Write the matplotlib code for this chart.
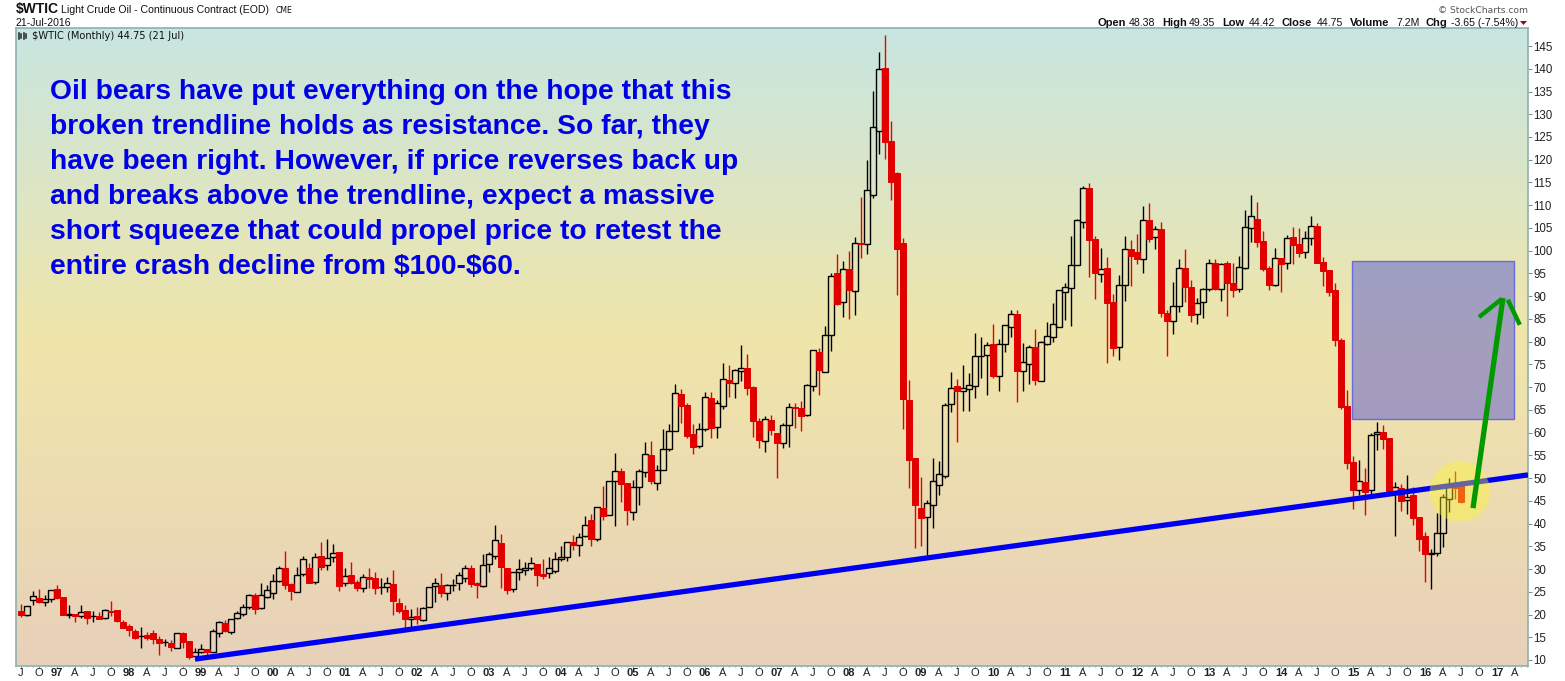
import matplotlib
matplotlib.use("Agg")
import matplotlib.pyplot as plt
import numpy as np
from matplotlib.colors import LinearSegmentedColormap
from matplotlib.lines import Line2D
from matplotlib.patches import Ellipse, Polygon, Rectangle

# Monthly candles, Jul 1996 to Jul 2016
opens = [
    20.8, 20.0, 23.3, 23.6, 22.85, 23.35,
    25.6, 23.9, 20.0, 20.1, 19.6, 20.7, 19.65, 19.7, 19.2, 20.75, 21.0, 18.35,
    17.5, 16.4, 15.25, 15.5, 15.9, 14.6, 13.85, 13.75, 12.7, 15.85, 14.25, 10.8,
    11.85, 12.4, 11.85, 16.0, 18.05, 16.25, 19.15, 20.1, 21.6, 24.3, 21.5, 23.9,
    24.65, 27.45, 30.2, 26.7, 25.0, 29.0, 30.2, 27.2, 32.85, 30.95, 32.7, 33.75,
    26.85, 28.7, 27.15, 25.9, 28.25, 28.0, 26.1, 26.1, 26.7, 22.45, 21.0, 18.95,
    19.6, 18.9, 21.7, 26.35, 26.5, 24.8, 26.4, 26.85, 28.1, 30.15, 26.85, 26.35,
    31.2, 32.8, 35.7, 30.15, 25.55, 29.4, 29.7, 30.3, 31.1, 28.9, 29.05, 29.5,
    32.1, 32.55, 35.95, 35.2, 37.2, 40.8, 36.7, 43.4, 41.8, 49.3, 51.55, 48.9,
    42.6, 47.95, 51.4, 55.05, 49.0, 51.7, 56.3, 60.3, 68.5, 66.1, 59.7, 57.1,
    60.7, 67.6, 61.3, 65.9, 71.55, 71.0, 73.6, 74.2, 70.05, 62.55, 58.2, 62.75,
    59.9, 57.8, 61.6, 65.7, 65.4, 63.85, 70.2, 77.7, 73.4, 81.4, 95.1, 88.65,
    96.0, 91.2, 101.7, 101.4, 112.3, 126.25, 140.15, 124.1, 117.05, 101.7, 67.2, 54.4,
    43.4, 41.35, 44.0, 48.55, 50.55, 66.2, 70.25, 69.05, 69.5, 70.2, 76.8, 77.1,
    79.4, 72.5, 79.55, 83.15, 86.1, 73.6, 75.15, 78.8, 71.4, 79.55, 81.1, 83.3,
    91.0, 91.85, 96.8, 106.4, 113.8, 102.55, 94.95, 96.2, 88.7, 78.75, 92.4, 100.35,
    99.7, 98.25, 106.75, 103.1, 104.75, 86.3, 84.5, 87.75, 96.2, 91.95, 86.0, 88.65,
    91.5, 97.2, 91.5, 97.2, 92.9, 91.5, 96.25, 105.05, 106.95, 102.1, 96.2, 92.5,
    98.4, 97.2, 103.0, 101.45, 99.6, 102.7, 105.4, 97.5, 95.75, 91.35, 80.35, 65.85,
    53.5, 47.3, 49.15, 47.3, 59.6, 60.1, 58.8, 47.0, 47.75, 45.1, 46.3, 41.45,
    37.25, 33.4, 33.6, 37.85, 45.5, 49.0, 48.38,
]
highs = [
    22.3, 21.85, 25.2, 25.6, 24.3, 25.5,
    26.5, 23.9, 22.1, 20.2, 22.1, 20.7, 20.85, 20.55, 21.15, 22.95, 21.0, 18.8,
    17.85, 16.8, 17.3, 16.2, 16.6, 15.3, 14.6, 14.4, 15.85, 16.15, 14.25, 12.55,
    13.5, 12.4, 16.75, 18.5, 18.8, 18.95, 20.85, 22.3, 24.5, 24.65, 26.85, 26.5,
    28.9, 30.7, 34.0, 26.85, 30.4, 32.85, 31.25, 33.45, 35.95, 36.6, 35.5, 33.75,
    30.2, 31.55, 27.6, 28.9, 30.2, 29.35, 28.0, 28.25, 29.8, 23.55, 22.1, 21.2,
    21.6, 21.6, 26.0, 27.95, 29.05, 26.7, 27.8, 29.4, 30.9, 30.9, 27.15, 33.3,
    33.7, 39.7, 37.7, 30.15, 29.3, 32.1, 31.55, 32.65, 31.1, 32.1, 32.55, 33.7,
    35.0, 35.9, 37.5, 38.0, 41.7, 42.1, 43.55, 48.25, 49.3, 55.5, 52.2, 48.9,
    49.6, 51.9, 57.9, 58.15, 52.9, 60.8, 61.9, 70.7, 69.6, 66.5, 61.9, 62.1,
    68.9, 68.9, 67.2, 75.3, 74.85, 74.0, 79.25, 77.3, 70.25, 63.2, 63.65, 63.85,
    59.9, 62.1, 66.5, 66.5, 66.95, 70.7, 78.1, 78.6, 83.5, 95.1, 99.3, 97.65,
    99.9, 102.9, 111.8, 119.9, 135.1, 143.7, 147.4, 128.5, 117.3, 102.8, 71.55, 54.4,
    50.25, 45.2, 54.4, 53.75, 66.4, 73.3, 71.8, 74.85, 73.05, 81.9, 81.0, 79.9,
    83.9, 80.6, 83.6, 86.95, 86.95, 79.7, 79.3, 82.8, 80.15, 84.3, 88.4, 91.3,
    92.9, 103.2, 107.0, 114.2, 114.9, 103.2, 100.6, 98.6, 90.5, 94.65, 103.2, 102.35,
    103.7, 109.8, 110.5, 105.4, 106.3, 86.95, 93.1, 98.15, 100.35, 93.55, 89.5, 91.8,
    98.1, 98.1, 97.2, 97.7, 97.3, 98.8, 108.95, 112.25, 110.7, 104.3, 96.6, 100.6,
    98.4, 103.45, 105.2, 105.0, 104.3, 107.6, 106.1, 98.6, 95.75, 92.9, 80.8, 69.35,
    54.85, 54.0, 52.2, 60.0, 62.35, 61.65, 58.8, 49.15, 48.7, 50.7, 48.05, 41.45,
    38.15, 34.4, 42.3, 46.5, 50.0, 51.55, 49.35,
]
lows = [
    19.5, 19.75, 22.1, 22.45, 21.85, 22.85,
    23.35, 20.0, 19.3, 18.4, 19.2, 17.9, 18.45, 19.0, 18.95, 19.7, 18.3, 17.1,
    15.3, 14.6, 12.65, 14.4, 13.5, 11.1, 13.15, 12.0, 12.7, 12.7, 10.2, 10.7,
    11.45, 11.1, 11.85, 15.15, 16.15, 15.75, 18.95, 19.75, 21.15, 20.1, 21.3, 23.6,
    23.5, 27.1, 25.6, 23.2, 25.0, 28.5, 26.9, 26.7, 29.8, 29.8, 31.6, 25.2,
    26.25, 26.7, 25.2, 25.0, 25.9, 24.5, 24.5, 25.0, 19.9, 20.4, 17.05, 17.2,
    17.9, 18.65, 21.7, 22.75, 23.75, 23.2, 25.2, 25.4, 27.15, 26.05, 23.65, 26.1,
    29.35, 32.3, 25.8, 24.5, 25.0, 27.65, 28.75, 29.8, 26.25, 27.8, 28.0, 29.2,
    31.85, 31.85, 34.2, 32.9, 37.0, 35.05, 36.25, 40.8, 41.8, 39.45, 44.75, 39.7,
    40.8, 44.1, 50.3, 48.7, 47.4, 51.7, 56.0, 60.3, 62.1, 58.9, 55.3, 56.7,
    60.4, 58.8, 58.8, 65.2, 67.85, 67.6, 71.35, 68.25, 59.05, 56.6, 55.75, 59.5,
    50.0, 56.6, 56.8, 61.0, 60.35, 63.6, 69.15, 68.3, 73.4, 78.0, 88.05, 85.4,
    85.0, 85.85, 98.5, 99.25, 111.65, 121.25, 120.15, 111.15, 90.25, 60.8, 47.8, 34.6,
    35.05, 33.1, 39.05, 46.3, 50.1, 64.55, 57.95, 64.75, 64.75, 67.6, 72.0, 68.25,
    72.0, 69.15, 77.75, 81.0, 66.7, 69.15, 70.7, 70.45, 71.4, 79.2, 79.9, 83.3,
    84.75, 83.45, 96.8, 105.0, 94.3, 89.4, 93.1, 75.3, 76.85, 75.95, 88.95, 92.25,
    97.1, 95.2, 101.9, 100.35, 85.4, 76.85, 81.7, 86.5, 88.8, 84.4, 83.8, 85.1,
    91.2, 91.35, 89.0, 85.7, 89.9, 91.0, 95.9, 102.0, 100.9, 95.6, 91.35, 92.2,
    90.9, 96.0, 97.05, 98.6, 98.4, 101.25, 97.35, 92.2, 90.0, 79.05, 65.2, 52.0,
    43.2, 46.3, 41.9, 46.3, 56.2, 56.4, 46.95, 37.25, 42.75, 42.1, 39.7, 33.95,
    27.15, 25.6, 32.9, 34.85, 42.5, 45.4, 44.42,
]
closes = [
    19.9, 21.8, 24.0, 22.75, 23.35, 25.5,
    23.7, 20.0, 20.05, 19.7, 20.5, 19.3, 19.75, 19.1, 20.9, 20.65, 18.6, 17.1,
    16.6, 14.85, 15.3, 14.9, 14.6, 13.8, 13.9, 12.95, 15.85, 14.05, 10.75, 11.7,
    12.35, 11.85, 16.3, 18.3, 16.4, 18.95, 20.25, 21.75, 24.2, 21.2, 24.2, 25.3,
    27.3, 30.15, 26.5, 25.2, 28.6, 32.15, 26.9, 32.7, 30.45, 32.35, 33.45, 26.25,
    28.4, 26.9, 25.85, 28.2, 27.8, 25.9, 26.15, 26.85, 23.05, 20.75, 19.0, 19.4,
    19.0, 21.4, 26.0, 26.85, 24.8, 26.4, 26.5, 28.6, 30.15, 26.8, 26.55, 30.8,
    33.2, 36.3, 30.5, 25.4, 29.3, 29.95, 30.15, 31.25, 28.75, 28.55, 30.15, 32.1,
    32.7, 35.9, 35.35, 37.0, 39.6, 36.6, 43.55, 41.75, 49.3, 51.5, 48.7, 43.0,
    47.95, 51.5, 55.2, 49.35, 51.7, 56.3, 60.3, 68.6, 65.85, 59.25, 56.85, 60.7,
    67.75, 61.1, 66.45, 71.7, 70.9, 73.7, 74.15, 69.9, 62.55, 58.4, 62.9, 60.6,
    57.7, 61.6, 65.55, 65.4, 63.65, 70.4, 78.1, 73.8, 81.4, 94.35, 88.3, 95.9,
    91.35, 101.6, 101.4, 113.25, 127.3, 139.9, 123.95, 115.15, 100.35, 67.4, 54.0, 44.1,
    41.2, 44.45, 49.3, 50.85, 66.0, 69.75, 69.2, 69.75, 70.4, 76.8, 76.85, 79.2,
    72.45, 79.4, 83.6, 86.0, 73.55, 75.45, 78.75, 71.55, 79.85, 81.15, 83.8, 91.3,
    91.95, 96.8, 106.65, 113.7, 102.35, 95.1, 95.9, 88.5, 78.6, 92.4, 100.3, 98.85,
    98.15, 106.65, 102.55, 104.7, 86.3, 84.55, 87.75, 96.1, 91.95, 85.95, 88.4, 91.5,
    97.2, 91.5, 97.0, 92.95, 91.4, 96.35, 105.1, 107.55, 102.0, 96.05, 92.5, 98.5,
    97.15, 102.7, 101.3, 99.5, 102.7, 105.35, 97.35, 95.5, 91.0, 80.35, 65.7, 53.4,
    47.4, 49.3, 46.95, 59.5, 60.05, 58.65, 46.95, 48.0, 45.05, 45.9, 41.3, 36.6,
    33.3, 33.55, 37.85, 45.75, 48.0, 47.9, 44.75,
]

price_ticks = list(range(10, 150, 5))
quarter_letters = ["J", "O", None, "A"]  # Jul, Oct, Jan (year label), Apr
first_label_year = 1997

annotation_lines = [
    "Oil bears have put everything on the hope that this",
    "broken trendline holds as resistance. So far, they",
    "have been right. However, if price reverses back up",
    "and breaks above the trendline, expect a massive",
    "short squeeze that could propel price to retest the",
    "entire crash decline from $100-$60.",
]
quote_parts = [
    (1097, "Open", True), (1129, "48.38", False),
    (1162, "High", True), (1189, "49.35", False),
    (1222, "Low", True), (1249, "44.42", False),
    (1282, "Close", True), (1317, "44.75", False),
    (1350, "Volume", True), (1396, "7.2M", False),
    (1426, "Chg", True), (1451, "-3.65 (-7.54%)", False),
]

W, H = 1565, 681
plt.rcParams["font.family"] = ["Liberation Sans", "DejaVu Sans"]

fig = plt.figure(figsize=(W / 100, H / 100), dpi=100)
ax = fig.add_axes([16 / W, 1 - 666 / H, (1528 - 16) / W, (666 - 28) / H])

# one month is 6 px, 1 dollar is 4.548 px
x_min, x_max = (16 - 21) / 6, (1528 - 21) / 6
y_min, y_max = 10 - 6 / 4.548, 10 + 632 / 4.548


def pixel_text(x, y, s, **kwargs):
    # y is the text baseline in image pixels, parse_math off because of the dollar signs
    return fig.text(x / W, 1 - y / H, s, va="baseline", parse_math=False, **kwargs)


# background gradient
cmap = LinearSegmentedColormap.from_list(
    "panel",
    [(0.0, "#c8e5e0"), (0.49, "#f0e6aa"), (1.0, "#e8d1ba")],
)
ax.imshow(
    np.linspace(0, 1, 400).reshape(-1, 1),
    cmap=cmap,
    aspect="auto",
    extent=(x_min, x_max, y_min, y_max),
    origin="upper",
    zorder=0,
)

o = np.array(opens)
h = np.array(highs)
l = np.array(lows)
c = np.array(closes)
months = np.arange(len(o))
down = c < o
body_top = np.maximum(o, c)
body_bottom = np.minimum(o, c)

# wicks stop at the body, hollow candles are see-through
for mask, color in [(~down, "black"), (down, "#e60000")]:
    ax.vlines(months[mask], body_top[mask], h[mask], color=color, lw=1.0, zorder=2)
    ax.vlines(months[mask], l[mask], body_bottom[mask], color=color, lw=1.0, zorder=2)

ax.bar(
    months[~down],
    (body_top - body_bottom)[~down],
    bottom=body_bottom[~down],
    width=0.88,
    facecolor="none",
    edgecolor="black",
    linewidth=1.0,
    zorder=3,
)
ax.bar(
    months[down],
    (body_top - body_bottom)[down],
    bottom=body_bottom[down],
    width=0.9,
    facecolor="#e00000",
    edgecolor="#e00000",
    linewidth=0.7,
    zorder=4,
)

# target box
ax.add_patch(
    Rectangle(
        (221.83, 62.9),
        27,
        34.9,
        facecolor="#3c3cd8",
        alpha=0.42,
        edgecolor="none",
        zorder=5,
    )
)
ax.add_patch(
    Rectangle(
        (221.83, 62.9),
        27,
        34.9,
        facecolor="none",
        edgecolor="#6a6ae0",
        linewidth=1.0,
        zorder=5,
    )
)

# trendline
ax.plot(
    [29, x_max],
    [10.2, 50.7],
    color="#0000f0",
    lw=3.8,
    solid_capstyle="butt",
    zorder=6,
)

# yellow circle on top of candles and trendline
ax.add_patch(
    Ellipse((239.83, 47.0), 10.1, 13.3, facecolor="#fff828", alpha=0.4, edgecolor="none", zorder=7)
)

# green arrow
green = "#009a00"
ax.plot([242, 247], [43.4, 89.6], color=green, lw=3.8, solid_capstyle="butt", zorder=8)
ax.plot([243, 246.8], [85.4, 89.4], color=green, lw=3.2, solid_capstyle="butt", zorder=8)
ax.plot([247.8, 249.8], [89.2, 83.7], color=green, lw=3.2, solid_capstyle="butt", zorder=8)

ax.set_xlim(x_min, x_max)
ax.set_ylim(y_min, y_max)

# axes furniture
frame_color = "#8fb0b0"
for spine in ax.spines.values():
    spine.set_color(frame_color)
    spine.set_linewidth(1.2)

ax.yaxis.tick_right()
ax.set_yticks(price_ticks)
ax.set_yticklabels([str(p) for p in price_ticks], fontsize=8.3, color="#222222")
ax.tick_params(axis="y", length=3, width=0.7, color="#6f8f8f", pad=1)

quarter_pos = list(range(0, 252, 3))
quarter_labels = []
for pos in quarter_pos:
    letter = quarter_letters[(pos // 3) % 4]
    if letter is None:
        quarter_labels.append(f"{(first_label_year + (pos - 6) // 12) % 100:02d}")
    else:
        quarter_labels.append(letter)
ax.set_xticks(quarter_pos)
ax.set_xticklabels(quarter_labels, fontsize=8, color="#222222")
for tick_label in ax.get_xticklabels():
    if tick_label.get_text().isdigit():
        tick_label.set_fontweight("bold")
ax.set_xticks(months.tolist() + list(range(len(o), 252)), minor=True)
ax.tick_params(axis="x", which="major", length=1.6, width=0.7, color="#6f8f8f", pad=0)
ax.tick_params(axis="x", which="minor", length=1.0, width=0.6, color="#6f8f8f")

# blue comment text
for line_no, line in enumerate(annotation_lines):
    pixel_text(
        50,
        99 + 35 * line_no,
        line,
        fontsize=20.3,
        fontweight="bold",
        color="#0000e6",
        zorder=10,
    )

# header
pixel_text(16, 13, "$WTIC", fontsize=10, fontweight="bold", color="#111111")
pixel_text(61, 13, "Light Crude Oil - Continuous Contract (EOD)", fontsize=7.6, color="#111111")
pixel_text(276, 13, "CME", fontsize=5.6, family="DejaVu Sans", color="#111111")
pixel_text(16, 26, "21-Jul-2016", fontsize=7.6, color="#111111")
pixel_text(32, 39, "$WTIC (Monthly) 44.75 (21 Jul)", fontsize=7.1, family="DejaVu Sans", color="#111111")
pixel_text(1438, 13, "\u00a9 StockCharts.com", fontsize=6.6, family="DejaVu Sans", color="#555555")

for x, s, is_bold in quote_parts:
    pixel_text(
        x,
        26,
        s,
        fontsize=8.0 if is_bold else 7.6,
        fontweight="bold" if is_bold else "normal",
        color="#111111",
    )

# red down triangle next to the change
fig.add_artist(
    Polygon(
        [(1520 / W, 1 - 21 / H), (1527 / W, 1 - 21 / H), (1523.5 / W, 1 - 25 / H)],
        closed=True,
        transform=fig.transFigure,
        facecolor="#99002a",
        edgecolor="none",
    )
)

# little candlestick icon in the panel corner
for x0, y0, y1 in [(18.5, 33, 39), (20.5, 34, 38), (24, 33, 39), (26, 34, 38)]:
    fig.add_artist(
        Line2D(
            [x0 / W, x0 / W],
            [1 - y0 / H, 1 - y1 / H],
            transform=fig.transFigure,
            color="#222222",
            lw=1.1,
        )
    )

fig.savefig("out.png", dpi=100)
